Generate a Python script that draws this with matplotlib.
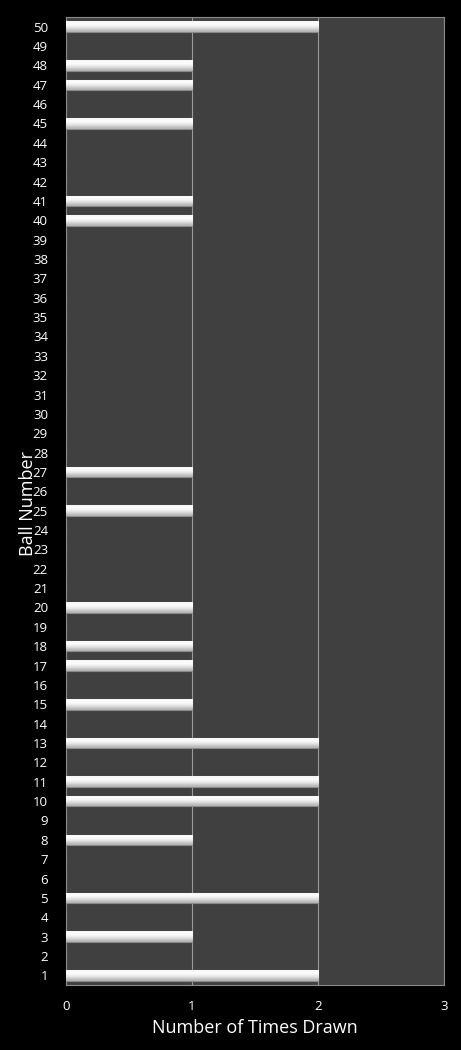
import matplotlib
matplotlib.use("Agg")
import matplotlib.pyplot as plt
import numpy as np

balls = list(range(1, 51))
drawn_balls = [1, 3, 5, 8, 10, 11, 13, 15, 17, 18, 20, 25, 27, 40, 41, 45, 47, 48, 50]
drawn_counts = [2, 1, 2, 1, 2, 2, 2, 1, 1, 1, 1, 1, 1, 1, 1, 1, 1, 1, 2]
x_ticks = [0, 1, 2, 3]

counts = [0] * len(balls)
for b, c in zip(drawn_balls, drawn_counts):
    counts[balls.index(b)] = c

plt.rcParams['font.family'] = ['Open Sans', 'DejaVu Sans']

fig = plt.figure(figsize=(4.61, 10.5), dpi=100, facecolor='black')
ax = fig.add_axes([66/461, 1 - 985/1050, (444-66)/461, (985-17)/1050])
ax.set_facecolor('#404040')

bars = ax.barh(balls, counts, height=0.54, color='white', edgecolor='#8a8a8a',
               linewidth=0.8, zorder=3)

grad = np.array([[0.97], [1.0], [0.93], [0.85], [0.7]])
for p in bars:
    if p.get_width() <= 0:
        continue
    x0, y0 = p.get_x(), p.get_y()
    w, h = p.get_width(), p.get_height()
    im = ax.imshow(grad, cmap='gray', vmin=0, vmax=1, aspect='auto',
                   extent=[x0, x0 + w, y0, y0 + h], origin='upper',
                   interpolation='bicubic', zorder=3.5)
    im.set_clip_path(p)

ax.set_xlim(0, 3)
ax.set_ylim(0.5, 50.5)
ax.set_xticks(x_ticks)
ax.set_xticklabels([str(t) for t in x_ticks])
ax.set_yticks(balls)
ax.set_yticklabels([str(b) for b in balls])
ax.grid(axis='x', color='#9a9a9a', linewidth=0.8, zorder=1)
ax.tick_params(axis='both', colors='white', length=0, labelsize=9.5)
ax.tick_params(axis='y', pad=13)
ax.tick_params(axis='x', pad=11)
for s in ax.spines.values():
    s.set_color('#8a8a8a')
    s.set_linewidth(0.8)

ax.set_xlabel('Number of Times Drawn', color='white', fontsize=13, labelpad=4)
ax.set_ylabel('Ball Number', color='white', fontsize=13)
ax.yaxis.set_label_coords(-0.078, 0.497)

fig.savefig('out.png', dpi=100, facecolor='black')
